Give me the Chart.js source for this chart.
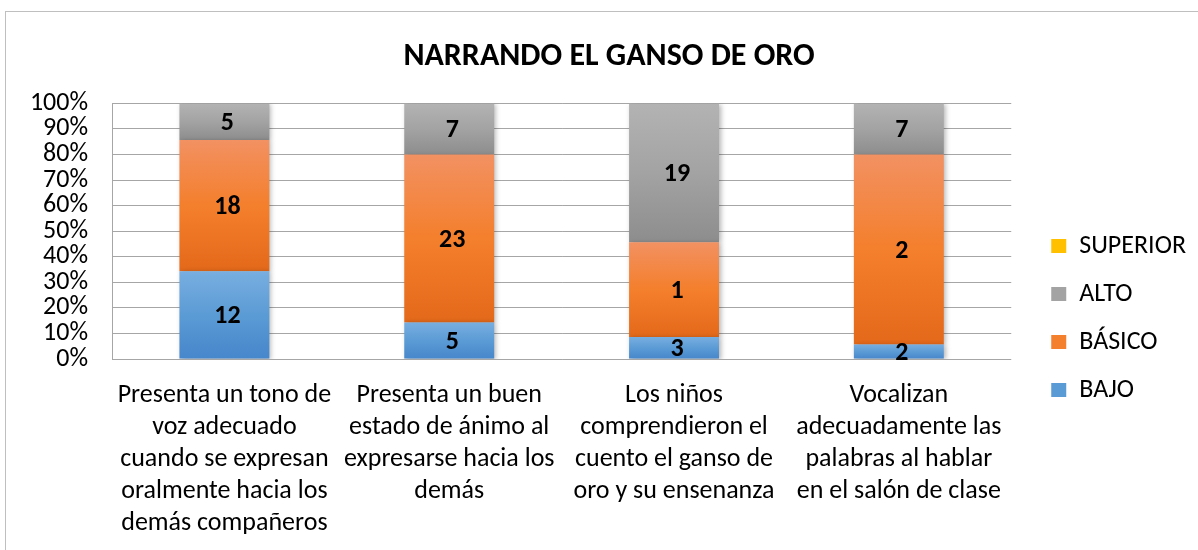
<!DOCTYPE html>
<html>
<head>
<meta charset="utf-8">
<script src="https://cdn.jsdelivr.net/npm/chart.js"></script>
<style>
    html, body { margin: 0; padding: 0; background: #ffffff; overflow: hidden; }
    #marco {
        position: absolute; left: 5px; top: 11px;
        width: 1210px; height: 640px;
        border: 1px solid #bfbfbf; background: #ffffff;
    }
    #grafico { display: block; }
</style>
</head>
<body>
<div id="marco">
    <canvas id="grafico" width="1190" height="612" style="width:1190px;height:612px"></canvas>
</div>
<script>
// categorias (cada una partida en lineas como en la imagen)
const categorias = [
    ['Presenta un tono de', 'voz adecuado', 'cuando se expresan', 'oralmente hacia los', 'demás compañeros'],
    ['Presenta un buen', 'estado de ánimo al', 'expresarse hacia los', 'demás'],
    ['Los niños', 'comprendieron el', 'cuento el ganso de', 'oro y su ensenanza'],
    ['Vocalizan', 'adecuadamente las', 'palabras al hablar', 'en el salón de clase']
]
const series = ['BAJO', 'BÁSICO', 'ALTO', 'SUPERIOR']

const bajo = [12, 5, 3, 2]
const basico = [18, 23, 13, 26]
const alto = [5, 7, 19, 7]
const superior = [0, 0, 0, 0]

// textos que se ven sobre las barras
const etiquetas_bajo = ['12', '5', '3', '2']
const etiquetas_basico = ['18', '23', '1', '2']
const etiquetas_alto = ['5', '7', '19', '7']
const etiquetas_superior = ['', '', '', '']

const ticks_y = [0, 10, 20, 30, 40, 50, 60, 70, 80, 90, 100]

const fuente = "Carlito, Calibri, Lato, 'Noto Sans', sans-serif"

// pasar a porcentaje del total de cada columna (100% apilado)
const totales = bajo.map((v, i) => v + basico[i] + alto[i] + superior[i])
const porcentaje = (arr) => arr.map((v, i) => v / totales[i] * 100)

// degradado vertical por tramo, como el relleno de Excel
function degradado(claro, medio, oscuro) {
    return function (context) {
        const chart = context.chart
        if (!chart.chartArea || context.type !== 'data') return medio
        const escala = chart.scales.y
        const sets = chart.data.datasets
        let inicio = 0
        for (let d = 0; d < context.datasetIndex; d++) inicio += sets[d].data[context.dataIndex]
        const fin = inicio + sets[context.datasetIndex].data[context.dataIndex]
        const yArriba = escala.getPixelForValue(fin)
        const yAbajo = escala.getPixelForValue(inicio)
        if (!isFinite(yArriba) || !isFinite(yAbajo) || yArriba === yAbajo) return medio
        const g = chart.ctx.createLinearGradient(0, yArriba, 0, yAbajo)
        g.addColorStop(0, claro)
        g.addColorStop(0.5, medio)
        g.addColorStop(1, oscuro)
        return g
    }
}

const colores = {
    'BAJO': ['#78aee0', '#5b9bd5', '#4686cb'],
    'BÁSICO': ['#f29162', '#f47f2c', '#e4691a'],
    'ALTO': ['#b3b3b3', '#a3a3a3', '#8d8d8d'],
    'SUPERIOR': ['#ffd24a', '#ffc000', '#e8ad00']
}

const datos = [bajo, basico, alto, superior]
const textos = [etiquetas_bajo, etiquetas_basico, etiquetas_alto, etiquetas_superior]

const datasets = series.map((nombre, i) => ({
    label: nombre,
    data: porcentaje(datos[i]),
    textos: textos[i],
    backgroundColor: degradado(colores[nombre][0], colores[nombre][1], colores[nombre][2]),
    borderWidth: 0,
    categoryPercentage: 1,
    barPercentage: 0.4
}))

// sombra suave de las barras
const sombra = {
    id: 'sombra',
    beforeDatasetsDraw(chart) {
        const c = chart.ctx
        c.save()
        c.shadowColor = 'rgba(0,0,0,0.30)'
        c.shadowBlur = 5
        c.shadowOffsetX = 2
        c.shadowOffsetY = 1
    },
    afterDatasetsDraw(chart) {
        chart.ctx.restore()
    }
}

// numeros dentro de cada tramo
const etiquetas = {
    id: 'etiquetas',
    afterDatasetsDraw(chart) {
        const c = chart.ctx
        c.save()
        c.font = 'bold 26px ' + fuente
        c.fillStyle = '#000000'
        c.textAlign = 'center'
        c.textBaseline = 'middle'
        chart.data.datasets.forEach((ds, d) => {
            const meta = chart.getDatasetMeta(d)
            meta.data.forEach((barra, i) => {
                const t = ds.textos[i]
                if (!t) return
                const p = barra.getProps(['x', 'y', 'base'], true)
                c.fillText(t, p.x + 3, (p.y + p.base) / 2 + 2)
            })
        })
        c.restore()
    }
}

new Chart(document.getElementById('grafico'), {
    type: 'bar',
    data: { labels: categorias, datasets: datasets },
    options: {
        responsive: false,
        animation: false,
        layout: { padding: { left: 16, right: 0, top: 0, bottom: 0 } },
        plugins: {
            title: {
                display: true,
                text: 'NARRANDO EL GANSO DE ORO',
                color: '#000000',
                font: { family: fuente, size: 32, weight: 'bold' },
                padding: { top: 26, bottom: 27 }
            },
            legend: {
                position: 'right',
                reverse: true,
                labels: {
                    color: '#000000',
                    font: { family: fuente, size: 26 },
                    boxWidth: 15,
                    boxHeight: 14,
                    padding: 22,
                    generateLabels(chart) {
                        return chart.data.datasets.map((ds, i) => ({
                            text: ds.label,
                            fillStyle: colores[ds.label][1],
                            strokeStyle: colores[ds.label][1],
                            lineWidth: 0,
                            hidden: false,
                            datasetIndex: i
                        }))
                    }
                }
            },
            tooltip: { enabled: false }
        },
        scales: {
            x: {
                stacked: true,
                grid: { display: false, drawTicks: false },
                border: { display: false },
                ticks: {
                    color: '#000000',
                    font: { family: fuente, size: 26, lineHeight: 1.23 },
                    padding: 21,
                    maxRotation: 0,
                    autoSkip: false
                },
                // el eje ocupa hasta el borde de abajo y no empuja los lados
                afterFit(scale) {
                    scale.height = 265
                    scale.paddingLeft = 0
                    scale.paddingRight = 0
                }
            },
            y: {
                stacked: true,
                min: 0,
                max: 100,
                afterBuildTicks(scale) {
                    scale.ticks = ticks_y.map(v => ({ value: v }))
                },
                afterFit(scale) { scale.width = 90 },
                grid: { color: '#a6a6a6', lineWidth: 1, drawTicks: false },
                border: { display: true, color: '#a6a6a6' },
                ticks: {
                    color: '#000000',
                    font: { family: fuente, size: 26 },
                    padding: 24,
                    autoSkip: false,
                    callback: (v) => v + '%'
                }
            },
            // espacio entre el area de barras y la leyenda
            hueco: {
                type: 'linear',
                position: 'right',
                display: true,
                grid: { display: false, drawTicks: false },
                border: { display: false },
                ticks: { display: false },
                afterFit(scale) { scale.width = 18 }
            }
        }
    },
    plugins: [sombra, etiquetas]
})
</script>
</body>
</html>
